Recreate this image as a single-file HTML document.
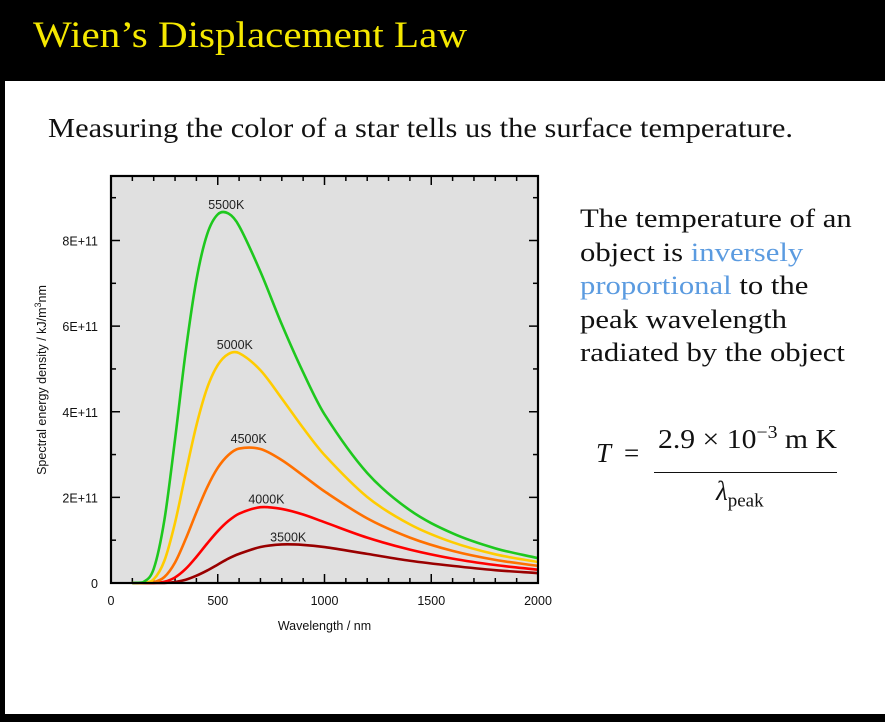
<!DOCTYPE html>
<html><head><meta charset="utf-8"><style>
html,body{margin:0;padding:0}
body{width:885px;height:722px;position:relative;overflow:hidden;background:#000;font-family:"Liberation Serif",serif}
#page{position:absolute;left:5px;top:81px;width:880px;height:633px;background:#fff}
#title{position:absolute;left:33px;top:14px;color:#f5e800;font-size:37px;font-family:"Liberation Serif",serif;white-space:nowrap;transform:scaleX(1.11);transform-origin:left top}
#sub{position:absolute;left:48px;top:113px;font-size:27px;color:#111;white-space:nowrap;transform:scaleX(1.128);transform-origin:left top}
#desc{position:absolute;left:580px;top:202px;font-size:26px;line-height:33.5px;color:#111;white-space:nowrap;transform:scaleX(1.18);transform-origin:left top}
.blue{color:#5b9be0}
#formula{position:absolute;left:596px;top:432px;font-size:27px;color:#111}
svg{position:absolute;left:0;top:0}
</style></head><body>
<div id="title">Wien’s Displacement Law</div>
<div id="page"></div>
<div id="sub">Measuring the color of a star tells us the surface temperature.</div>
<div id="desc">The temperature of an<br>object is <span class="blue">inversely</span><br><span class="blue">proportional</span> to the<br>peak wavelength<br>radiated by the object</div>
<div id="formula">
<span style="position:absolute;left:0;top:6px;font-style:italic">T</span>
<span style="position:absolute;left:28px;top:6px">=</span>
<span style="position:absolute;left:62px;top:-10px;white-space:nowrap;transform:scaleX(1.1);transform-origin:left top">2.9 × 10<sup style="font-size:18px">−3</sup> m K</span>
<span style="position:absolute;left:58px;top:40px;width:183px;border-top:1.5px solid #111"></span>
<span style="position:absolute;left:120px;top:44px;white-space:nowrap"><i>λ</i><sub style="font-size:19px">peak</sub></span>
</div>
<svg id="chart" width="885" height="722"></svg>
<script>
const wavelengths=[100,150,200,250,300,350,400,450,500,550,600,700,800,900,1000,1200,1400,1600,1800,2000];
const s5500=[0,0.018,0.33,1.47,3.36,5.41,7.08,8.14,8.61,8.63,8.34,7.27,6.04,4.92,3.94,2.57,1.70,1.16,0.81,0.58];
const s5000=[0,0.003,0.088,0.52,1.41,2.57,3.68,4.55,5.09,5.35,5.37,4.97,4.31,3.62,2.99,2.01,1.37,0.95,0.67,0.49];
const s4500=[0,0,0.018,0.14,0.48,1.03,1.65,2.23,2.69,2.99,3.14,3.13,2.87,2.51,2.14,1.51,1.06,0.75,0.54,0.40];
const s4000=[0,0,0.002,0.029,0.13,0.33,0.61,0.92,1.21,1.45,1.62,1.77,1.73,1.60,1.42,1.06,0.78,0.57,0.42,0.31];
const s3500=[0,0,0,0.002,0.023,0.076,0.17,0.29,0.43,0.57,0.68,0.84,0.90,0.89,0.84,0.68,0.52,0.40,0.30,0.23];
const seriesNames=["5500K","5000K","4500K","4000K","3500K"];
const seriesColors=["#1ec81e","#ffcc00","#ff7000","#ff0000","#990000"];
const labelLam=[540,580,645,728,830];
const labelVal=[8.73,5.46,3.27,1.86,0.97];
const xTicks=[0,500,1000,1500,2000];
const yTicks=[0,2,4,6,8];
const yTickLabels=["0","2E+11","4E+11","6E+11","8E+11"];
const series=[s5500,s5000,s4500,s4000,s3500];

const L=111,R=538,T=176,B=583;
const X=v=>L+(v/2000)*(R-L);
const Y=v=>B-v*(B-240.5)/8;
const svg=document.getElementById('chart');
const NS='http://www.w3.org/2000/svg';
function mk(t,a){const e=document.createElementNS(NS,t);for(const k in a)e.setAttribute(k,a[k]);svg.appendChild(e);return e;}
const bg=mk('rect',{x:L,y:T,width:R-L,height:B-T,fill:'#e0e0e0'});


for(let v=0;v<=2000;v+=100){const maj=v%500===0,len=maj?9:5;
 const t1=mk('line',{x1:X(v),x2:X(v),y1:B,y2:B-len,stroke:'#000','stroke-width':1.5});
 
 
 const t2=mk('line',{x1:X(v),x2:X(v),y1:T,y2:T+len,stroke:'#000','stroke-width':1.5});
 
 }
for(let v=0;v<=9.4;v+=1){const maj=v%2===0,len=maj?9:5;
 const t1=mk('line',{x1:L,x2:L+len,y1:Y(v),y2:Y(v),stroke:'#000','stroke-width':1.5});
 
 
 const t2=mk('line',{x1:R,x2:R-len,y1:Y(v),y2:Y(v),stroke:'#000','stroke-width':1.5});
 
 }
xTicks.forEach(v=>{const t=mk('text',{x:X(v),y:B+22,'text-anchor':'middle','font-size':12.5,'font-family':'Liberation Sans, sans-serif',fill:'#111'});t.textContent=v;
 
 });
yTicks.forEach((v,i)=>{const t=mk('text',{x:L-13,y:Y(v)+5,'text-anchor':'end','font-size':12.5,'font-family':'Liberation Sans, sans-serif',fill:'#111'});t.textContent=yTickLabels[i];
 
 });
function path(vals){const p=wavelengths.map((w,i)=>[X(w),Y(vals[i])]);let d='M'+p[0][0]+','+p[0][1];
 for(let i=0;i<p.length-1;i++){const p0=p[Math.max(0,i-1)],p1=p[i],p2=p[i+1],p3=p[Math.min(p.length-1,i+2)];
 const h=p2[0]-p1[0];
 const m1=(p2[1]-p0[1])/(p2[0]-p0[0]||1),m2=(p3[1]-p1[1])/(p3[0]-p1[0]||1);
 const c1=[p1[0]+h/3,Math.min(p1[1]+m1*h/3,B)],c2=[p2[0]-h/3,Math.min(p2[1]-m2*h/3,B)];
 d+=`C${c1[0]},${c1[1]} ${c2[0]},${c2[1]} ${p2[0]},${p2[1]}`;}return d;}
for(let i=series.length-1;i>=0;i--){
 const e=mk('path',{d:path(series[i]),fill:'none',stroke:seriesColors[i],'stroke-width':2.6});
 
 
 const t=mk('text',{x:X(labelLam[i]),y:Y(labelVal[i]),'text-anchor':'middle','font-size':12.5,'font-family':'Liberation Sans, sans-serif',fill:'#222'});t.textContent=seriesNames[i];
 
 }
const fr=mk('rect',{x:L,y:T,width:R-L,height:B-T,fill:'none',stroke:'#000','stroke-width':2.2});


const xl=mk('text',{x:(L+R)/2,y:630,'text-anchor':'middle','font-size':12.5,'font-family':'Liberation Sans, sans-serif',fill:'#111'});xl.textContent='Wavelength / nm';


const yl=mk('text',{x:0,y:0,'text-anchor':'middle','font-size':12.5,'font-family':'Liberation Sans, sans-serif',fill:'#111',transform:'translate(46,380) rotate(-90)'});
yl.innerHTML='Spectral energy density / kJ/m<tspan font-size="9" dy="-5">3</tspan><tspan dy="5">nm</tspan>';


</script>
</body></html>
